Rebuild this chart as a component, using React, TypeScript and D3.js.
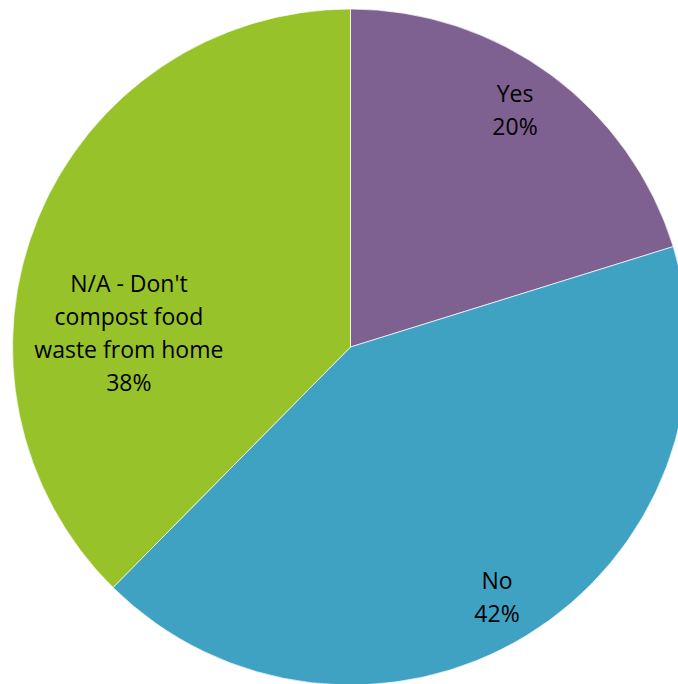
import React from "react";
import * as d3 from "d3";

const categories = ["Yes", "No", "N/A - Don't compost food waste from home"];
const values = [20.2, 42.2, 37.6];
const percentLabels = ["20%", "42%", "38%"];
const labelLines = [["Yes"], ["No"], ["N/A - Don't", "compost food", "waste from home"]];
const colors = ["#7E6191", "#3FA2C2", "#97C22A"];

const W = 678;
const H = 684;
const cx = 350.5;
const cy = 347;
const R = 338;
// label placement (radius fraction, angle offset in radians)
const labelRadius = [0.8535, 0.8574, 0.657];
const labelAngleOffset = [-0.0278, 0.0166, -0.3266];

export default function App() {
  const pie = d3.pie<number>().sort(null).value((d) => d)(values);
  const arc = d3.arc<d3.PieArcDatum<number>>().innerRadius(0).outerRadius(R);
  const lineH = 33;
  return (
    <div style={{ position: "fixed", left: 0, top: 0 }}>
      <svg width={W} height={H} style={{ display: "block" }}>
        <rect width={W} height={H} fill="#fff" />
        <g transform={`translate(${cx},${cy})`}>
          {pie.map((p, i) => (
            <path key={categories[i]} d={arc(p) || ""} fill={colors[i]} stroke="#fff" strokeWidth={0.7} />
          ))}
          {pie.map((p, i) => {
            const mid = (p.startAngle + p.endAngle) / 2 + labelAngleOffset[i];
            const r = R * labelRadius[i];
            const x = Math.sin(mid) * r;
            const y = -Math.cos(mid) * r;
            const lines = [...labelLines[i], percentLabels[i]];
            const y0 = y - ((lines.length - 1) * lineH) / 2;
            return (
              <text key={"l" + i} textAnchor="middle" fontFamily="'Open Sans', Lato, sans-serif" fontSize={23} fill="#000">
                {lines.map((t, j) => (
                  <tspan key={j} x={x} y={y0 + j * lineH} dy="0.36em">{t}</tspan>
                ))}
              </text>
            );
          })}
        </g>
      </svg>
    </div>
  );
}
